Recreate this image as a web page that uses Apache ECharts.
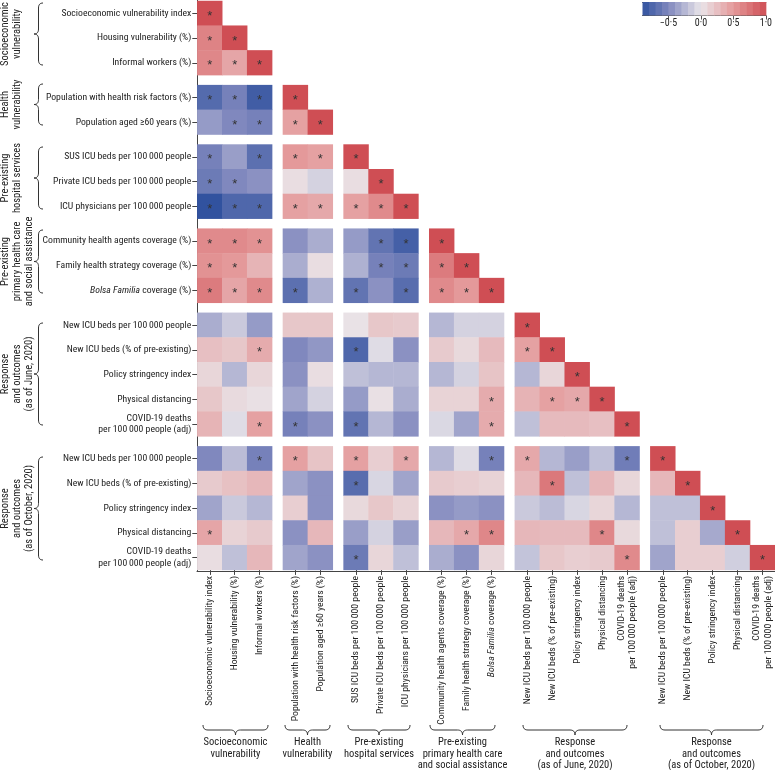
<!DOCTYPE html>
<html><head><meta charset="utf-8">
<script src="https://cdn.jsdelivr.net/npm/echarts@6/dist/echarts.min.js"></script>
<style>html,body{margin:0;padding:0;background:#fff}#c{width:775px;height:770px}</style>
</head><body><div id="c"></div>
<script>
// ---------------- DATA ----------------
const groupNames = [
  'Socioeconomic\nvulnerability',
  'Health\nvulnerability',
  'Pre-existing\nhospital services',
  'Pre-existing\nprimary health care\nand social assistance',
  'Response\nand outcomes\n(as of June, 2020)',
  'Response\nand outcomes\n(as of October, 2020)'
];
const groupSizes = [3, 2, 3, 3, 5, 5];
const variableNames = [
  'Socioeconomic vulnerability index',
  'Housing vulnerability (%)',
  'Informal workers (%)',
  'Population with health risk factors (%)',
  'Population aged \u226560 years (%)',
  'SUS ICU beds per 100\u2009000 people',
  'Private ICU beds per 100\u2009000 people',
  'ICU physicians per 100\u2009000 people',
  'Community health agents coverage (%)',
  'Family health strategy coverage (%)',
  'Bolsa Familia coverage (%)',
  'New ICU beds per 100\u2009000 people',
  'New ICU beds (% of pre-existing)',
  'Policy stringency index',
  'Physical distancing',
  'COVID-19 deaths\nper 100\u2009000 people (adj)',
  'New ICU beds per 100\u2009000 people',
  'New ICU beds (% of pre-existing)',
  'Policy stringency index',
  'Physical distancing',
  'COVID-19 deaths\nper 100\u2009000 people (adj)'
];
// lower-triangular correlation matrix (row i has i+1 values)
const corr = [
  [1],
  [0.65, 1],
  [0.62, 0.42, 1],
  [-0.72, -0.55, -0.82, 1],
  [-0.4, -0.5, -0.55, 0.45, 1],
  [-0.55, -0.38, -0.68, 0.5, 0.45, 1],
  [-0.6, -0.5, -0.45, 0.05, -0.1, 0.05, 1],
  [-0.9, -0.75, -0.75, 0.45, 0.4, 0.45, 0.6, 1],
  [0.6, 0.6, 0.55, -0.45, -0.3, -0.4, -0.65, -0.8, 1],
  [0.55, 0.5, 0.32, -0.3, 0.05, -0.28, -0.55, -0.6, 0.7, 1],
  [0.7, 0.42, 0.6, -0.68, -0.28, -0.65, -0.45, -0.7, 0.6, 0.5, 1],
  [-0.3, -0.15, -0.4, 0.2, 0.2, 0.02, 0.2, 0.18, -0.25, -0.1, -0.1, 1],
  [0.25, 0.2, 0.38, -0.5, -0.42, -0.75, -0.05, -0.45, 0.18, 0.08, 0.28, 0.45, 1],
  [0.1, -0.25, 0.1, -0.45, 0.05, -0.2, -0.25, -0.25, -0.25, -0.1, 0.22, -0.25, 0.1, 1],
  [0.2, 0.07, 0.03, -0.35, -0.1, -0.4, 0.03, -0.3, 0.12, 0.12, 0.38, 0.33, 0.45, 0.4, 1],
  [0.32, -0.05, 0.45, -0.55, -0.45, -0.65, -0.25, -0.45, -0.07, -0.35, 0.38, -0.2, 0.28, 0.28, 0.25, 1],
  [-0.5, -0.22, -0.55, 0.45, 0.22, 0.45, 0.15, 0.4, -0.25, -0.05, -0.55, 0.4, -0.25, -0.38, -0.2, -0.58, 1],
  [0.18, 0.24, 0.3, -0.35, -0.45, -0.7, -0.08, -0.35, 0.18, 0.15, 0.12, 0.3, 0.72, -0.2, 0.3, 0.1, 0.3, 1],
  [-0.35, -0.15, -0.25, 0.15, -0.45, 0.08, 0.2, 0.12, -0.45, -0.4, -0.45, -0.15, -0.22, -0.08, 0.1, -0.25, -0.2, -0.2, 1],
  [0.42, 0.12, 0.18, -0.45, 0.3, -0.38, -0.1, -0.38, 0.3, 0.4, 0.62, 0.3, 0.28, 0.28, 0.62, 0.08, -0.2, 0.15, -0.32, 1],
  [0.05, -0.2, 0.3, -0.35, -0.45, -0.6, 0.1, -0.2, -0.3, -0.45, 0.1, -0.18, 0.2, 0.15, 0.18, 0.6, -0.35, 0.15, 0.15, -0.12, 1]
];
// significance flags (1 = asterisk)
const sig = [
  '1',
  '11',
  '111',
  '1111',
  '01111',
  '101111',
  '1100001',
  '11111111',
  '111000111',
  '1100001111',
  '11110101111',
  '000000000001',
  '0010010000011',
  '00000000000001',
  '000000000010111',
  '0011010000100001',
  '00110101001100011',
  '000001000000100001',
  '0000000000000000001',
  '10000000011000100001',
  '000001000000000100001'
];
const colorbarEdges = [-0.9, -0.8, -0.7, -0.6, -0.5, -0.4, -0.3, -0.2, -0.1, 0, 0.1, 0.2, 0.3, 0.4, 0.5, 0.6, 0.7, 0.8, 0.9, 1.0];
const colorbarTicks = [-0.5, 0, 0.5, 1.0];

// ---------------- LAYOUT / STYLE ----------------
const FONT = '"Liberation Sans Narrow", "Roboto Condensed", "DejaVu Sans Condensed", "Liberation Sans", sans-serif';
const TXT = '#222';
const LINE = '#444';
const FS = 9.7;      // axis labels
const GFS = 10.5;    // group labels
const L = 197.3, CW = 24.94, CG = 10.8;
const T = 1, RH = 24.71, RG = 10;
const starts = [];
groupSizes.reduce((a, s, i) => { starts[i] = a; return a + s; }, 0);
const colX = g => L + starts[g] * CW + g * CG;
const rowY = g => T + starts[g] * RH + g * RG;
const leftBraceSpans = [[3, 65], [84, 125], [147, 209], [230, 293], [323, 425], [457, 560]];
const bottomBraceSpans = [[203, 268], [285, 330], [348, 410], [430, 495], [523, 627], [660, 763]];

const rich = { it: { fontStyle: 'italic', fontSize: FS, fontFamily: FONT, color: TXT } };
const fmt = v => v.indexOf('Bolsa Familia') === 0 ? '{it|Bolsa Familia}' + v.slice(13) : v;

const grids = [], xAxes = [], yAxes = [], series = [];
for (let r = 0; r < groupSizes.length; r++) {
  for (let c = 0; c <= r; c++) {
    const k = grids.length;
    grids.push({ left: colX(c), top: rowY(r), width: groupSizes[c] * CW, height: groupSizes[r] * RH });
    xAxes.push({
      type: 'category', gridIndex: k, position: 'bottom',
      data: variableNames.slice(starts[c], starts[c] + groupSizes[c]),
      axisLine: { show: false },
      axisTick: { show: r === 5, alignWithLabel: true, interval: 0, length: 5, lineStyle: { color: LINE } },
      axisLabel: { show: r === 5, interval: 0, rotate: 90, margin: 6, fontSize: FS, fontFamily: FONT, color: TXT, lineHeight: 11.5, formatter: fmt, rich },
      splitLine: { show: false }
    });
    yAxes.push({
      type: 'category', gridIndex: k, inverse: true,
      data: variableNames.slice(starts[r], starts[r] + groupSizes[r]),
      axisLine: { show: false },
      axisTick: { show: c === 0, alignWithLabel: true, interval: 0, length: 5, lineStyle: { color: LINE } },
      axisLabel: { show: c === 0, interval: 0, margin: 6, fontSize: FS, fontFamily: FONT, color: TXT, lineHeight: 11.7, formatter: fmt, rich },
      splitLine: { show: false }
    });
    const data = [];
    for (let i = 0; i < groupSizes[r]; i++) {
      for (let j = 0; j < groupSizes[c]; j++) {
        const ri = starts[r] + i, cj = starts[c] + j;
        if (cj <= ri) data.push({ value: [j, i, corr[ri][cj]], sig: sig[ri][cj] === '1' });
      }
    }
    series.push({
      type: 'heatmap', xAxisIndex: k, yAxisIndex: k, data,
      label: { show: true, formatter: p => p.data.sig ? '*' : '', fontSize: 13, color: '#333', fontFamily: 'Liberation Sans', offset: [0, 3] },
      emphasis: { disabled: true }, silent: true
    });
  }
}
// continuous axis lines around the whole matrix
const gFrame = grids.length;
grids.push({ left: 197, top: 0, width: 578, height: 571 });
xAxes.push({ type: 'value', gridIndex: gFrame, min: 0, max: 1, axisLine: { show: true, onZero: false, lineStyle: { color: LINE } }, axisTick: { show: false }, axisLabel: { show: false }, splitLine: { show: false } });
yAxes.push({ type: 'value', gridIndex: gFrame, min: 0, max: 1, axisLine: { show: true, onZero: false, lineStyle: { color: LINE } }, axisTick: { show: false }, axisLabel: { show: false }, splitLine: { show: false } });
// colour bar
const gBar = grids.length;
grids.push({ left: 642.5, top: 2, width: 126.5, height: 13.5 });
const xBar = xAxes.length;
xAxes.push({ type: 'value', gridIndex: gBar, min: colorbarEdges[0], max: colorbarEdges[colorbarEdges.length - 1],
  axisLine: { show: true, onZero: false, lineStyle: { color: '#555' } },
  axisTick: { show: true, customValues: colorbarTicks, length: 4, lineStyle: { color: '#555' } },
  axisLabel: { show: true, customValues: colorbarTicks, margin: 3, fontSize: 10, fontFamily: FONT, color: TXT,
    formatter: v => (v < 0 ? '\u2212' : '') + Math.abs(v).toFixed(1).replace('.', '\u00b7') },
  splitLine: { show: false } });
xAxes.push({ type: 'value', gridIndex: gBar, position: 'top', min: colorbarEdges[0], max: colorbarEdges[colorbarEdges.length - 1],
  axisLine: { show: true, onZero: false, lineStyle: { color: '#555' } }, axisTick: { show: false }, axisLabel: { show: false }, splitLine: { show: false } });
const yBar = yAxes.length;
yAxes.push({ type: 'value', gridIndex: gBar, min: 0, max: 1, show: false });
const bins = [];
for (let i = 0; i < colorbarEdges.length - 1; i++) {
  bins.push([colorbarEdges[i], colorbarEdges[i + 1], (colorbarEdges[i] + colorbarEdges[i + 1]) / 2]);
}
series.push({
  type: 'custom', xAxisIndex: xBar, yAxisIndex: yBar, data: bins, silent: true,
  renderItem: (params, api) => {
    const p0 = api.coord([api.value(0), 1]);
    const p1 = api.coord([api.value(1), 0]);
    return { type: 'rect', shape: { x: p0[0], y: p0[1], width: p1[0] - p0[0] + 0.5, height: p1[1] - p0[1] }, style: { fill: api.visual('color') } };
  }
});

// braces & group labels
function quad(p0, c, p1, out) {
  for (let t = 0; t <= 1.0001; t += 0.125) {
    const a = (1 - t) * (1 - t), b = 2 * (1 - t) * t, d = t * t;
    out.push([a * p0[0] + b * c[0] + d * p1[0], a * p0[1] + b * c[1] + d * p1[1]]);
  }
}
function braceV(xt, w, y0, y1) {
  const xe = xt + w, xb = xt + w / 2, ym = (y0 + y1) / 2, r = 5, pts = [];
  quad([xe, y0], [xb, y0], [xb, y0 + r], pts);
  quad([xb, ym - r], [xb, ym], [xt, ym], pts);
  quad([xt, ym], [xb, ym], [xb, ym + r], pts);
  quad([xb, y1 - r], [xb, y1], [xe, y1], pts);
  return pts;
}
function braceH(x0, x1, yt, w) {
  const ye = yt, yb = yt + w / 2, ytip = yt + w, xm = (x0 + x1) / 2, r = 5, pts = [];
  quad([x0, ye], [x0, yb], [x0 + r, yb], pts);
  quad([xm - r, yb], [xm, yb], [xm, ytip], pts);
  quad([xm, ytip], [xm, yb], [xm + r, yb], pts);
  quad([x1 - r, yb], [x1, yb], [x1, ye], pts);
  return pts;
}
const graphic = [];
groupNames.forEach((name, g) => {
  const [y0, y1] = leftBraceSpans[g];
  graphic.push({ type: 'polyline', shape: { points: braceV(34, 9, y0, y1) }, style: { stroke: '#333', fill: 'none', lineWidth: 1 }, silent: true });
  graphic.push({ type: 'text', x: 0, y: (y0 + y1) / 2, rotation: Math.PI / 2, silent: true,
    style: { text: name, fontSize: GFS, fontFamily: FONT, fill: TXT, align: 'center', verticalAlign: 'top', lineHeight: 11.7 } });
  const [x0, x1] = bottomBraceSpans[g];
  graphic.push({ type: 'polyline', shape: { points: braceH(x0, x1, 725, 10) }, style: { stroke: '#333', fill: 'none', lineWidth: 1 }, silent: true });
  graphic.push({ type: 'text', x: (x0 + x1) / 2, y: 737, silent: true,
    style: { text: name, fontSize: GFS, fontFamily: FONT, fill: TXT, align: 'center', verticalAlign: 'top', lineHeight: 11.5 } });
});

const chart = echarts.init(document.getElementById('c'), null, { renderer: 'canvas' });
chart.setOption({
  animation: false,
  backgroundColor: '#fff',
  grid: grids, xAxis: xAxes, yAxis: yAxes, series, graphic,
  visualMap: {
    type: 'continuous', show: false, min: -1, max: 1, dimension: 2,
    inRange: { color: ['#1d4597', '#8088be', '#e9e5e9', '#e4999a', '#cf4e54'] }
  }
});
</script></body></html>
